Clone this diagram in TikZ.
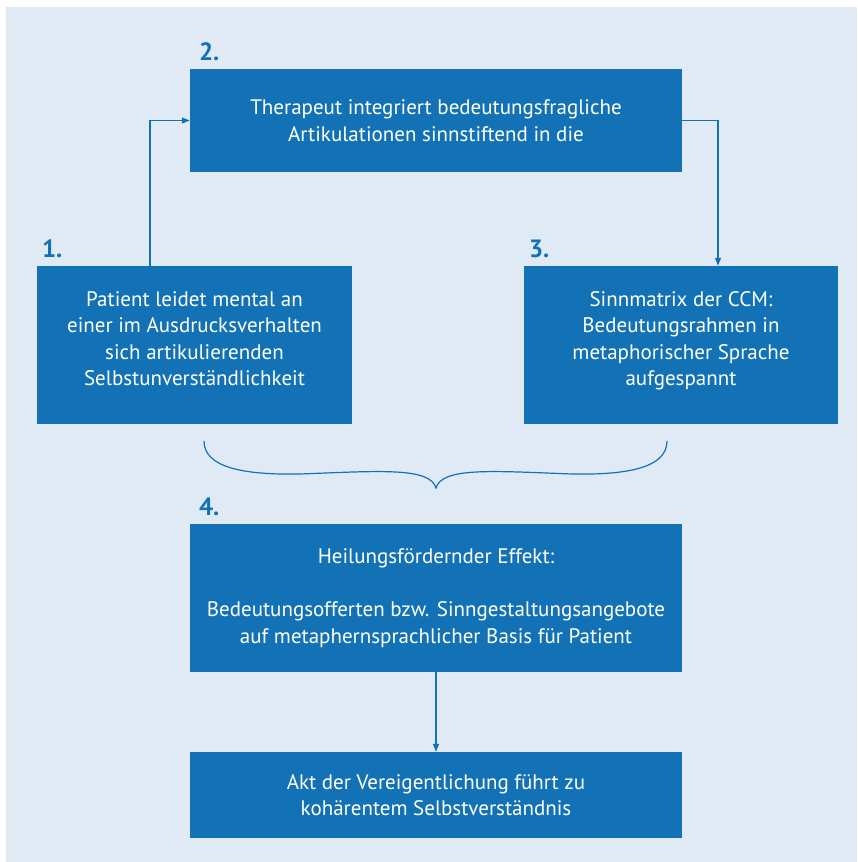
\documentclass[tikz,border=0pt]{standalone}
\usepackage{fontspec}
\setmainfont{PT Sans}
\usetikzlibrary{arrows.meta}
\definecolor{bgblue}{HTML}{DFEAF5}
\definecolor{boxblue}{HTML}{1372B6}
\begin{document}
\begin{tikzpicture}[x=1pt,y=-1pt,
  box/.style={draw=none,fill=boxblue,text=white,align=center,inner sep=0pt,
    font=\fontsize{21}{26.5}\selectfont},
  num/.style={text=boxblue,font=\fontsize{25}{26}\selectfont\bfseries,anchor=base west,inner sep=0pt},
  arr/.style={draw=boxblue,line width=1.2pt,-{Triangle[length=8pt,width=6pt]}},
  brace/.style={draw=boxblue,line width=1.2pt}]
\useasboundingbox (0,0) rectangle (857,862);
\fill[white] (0,0) rectangle (857,862);
\fill[bgblue] (6,7) rectangle (857,862);
\node[box,minimum width=315pt,minimum height=158pt] (b1) at (194.5,345)
  {Patient leidet mental an\\einer im Ausdrucksverhalten\\sich artikulierenden\\Selbstunverständlichkeit\\[-14pt]};
\node[box,minimum width=492pt,minimum height=103pt] (b2) at (436,120.5)
  {Therapeut integriert bedeutungsfragliche\\Artikulationen sinnstiftend in die};
\node[box,minimum width=314pt,minimum height=158pt] (b3) at (681,345)
  {Sinnmatrix der CCM:\\Bedeutungsrahmen in\\metaphorischer Sprache\\aufgespannt\\[-14pt]};
\node[box,minimum width=492pt,minimum height=148pt] (b4) at (436,598)
  {Heilungsfördernder Effekt:\\[26.5pt]Bedeutungsofferten bzw. Sinngestaltungsangebote\\auf metaphernsprachlicher Basis für Patient};
\node[box,minimum width=492pt,minimum height=86pt] (b5) at (436,795)
  {Akt der Vereigentlichung führt zu\\kohärentem Selbstverständnis};
\node[num] (n1) at ([xshift=5pt,yshift=8pt]b1.north west) {1.};
\node[num] (n2) at ([xshift=9pt,yshift=8pt]b2.north west) {2.};
\node[num] (n3) at ([xshift=5pt,yshift=8pt]b3.north west) {3.};
\node[num] (n4) at ([xshift=9pt,yshift=8pt]b4.north west) {4.};
\draw[arr] ([xshift=-44.5pt]b1.north) |- (b2.west);
\draw[arr] (b2.east) -| ([xshift=37pt]b3.north);
\draw[arr] (b4.south) -- (b5.north);
\coordinate (bl) at (204,441);
\coordinate (br) at (667,441);
\coordinate (bt) at (436,488);
\draw[brace] (bl) .. controls (204,468) and (245,475) .. (300,474)
  .. controls (380,471) and (430,467) .. (bt)
  .. controls (442,467) and (492,471) .. (572,474)
  .. controls (627,475) and (667,468) .. (br);
\end{tikzpicture}
\end{document}
